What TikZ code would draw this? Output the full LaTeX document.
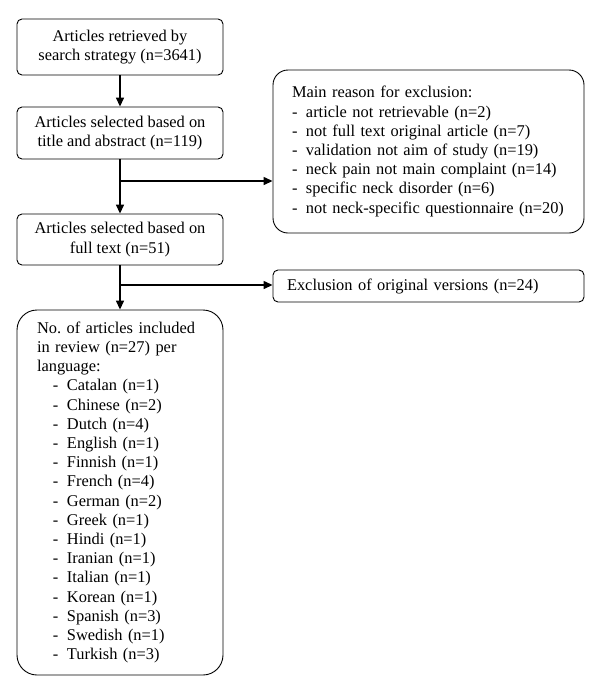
\documentclass[tikz,border=0pt]{standalone}
\usepackage{fontspec}
\setmainfont{Liberation Serif}
\usetikzlibrary{arrows.meta}
\newcommand{\dashitem}[1]{\makebox[14pt][l]{-}#1}

\begin{document}
\begin{tikzpicture}[x=1pt,y=-1pt,
            box/.style={draw,line width=0.9pt,rounded corners=5pt,minimum width=206pt,inner sep=0pt,
                font=\fontsize{16.4}{19.2}\selectfont,align=center},
            listbox/.style={box,align=left},
            flow/.style={line width=1.4pt,-{Triangle[length=9pt,width=8pt]}}]
            \useasboundingbox (0,0) rectangle (600,694);
            \node[box,minimum height=56pt] (retrieved) at (120,47) {Articles retrieved by\\search strategy (n=3641)};
            \node[box,minimum height=52pt] (title) at (120,133) {Articles selected based on\\title and abstract (n=119)};
            \node[box,minimum height=51pt] (fulltext) at (120,239.5) {Articles selected based on\\full text (n=51)};
            \node[listbox,rounded corners=20pt,minimum height=365pt,text width=166pt] (included) at (120,492.5) {%
                No.\ of articles included\\in review (n=27) per\\language:\\
                \hspace*{16pt}\dashitem{Catalan (n=1)}\\
                \hspace*{16pt}\dashitem{Chinese (n=2)}\\
                \hspace*{16pt}\dashitem{Dutch (n=4)}\\
                \hspace*{16pt}\dashitem{English (n=1)}\\
                \hspace*{16pt}\dashitem{Finnish (n=1)}\\
                \hspace*{16pt}\dashitem{French (n=4)}\\
                \hspace*{16pt}\dashitem{German (n=2)}\\
                \hspace*{16pt}\dashitem{Greek (n=1)}\\
                \hspace*{16pt}\dashitem{Hindi (n=1)}\\
                \hspace*{16pt}\dashitem{Iranian (n=1)}\\
                \hspace*{16pt}\dashitem{Italian (n=1)}\\
                \hspace*{16pt}\dashitem{Korean (n=1)}\\
                \hspace*{16pt}\dashitem{Spanish (n=3)}\\
                \hspace*{16pt}\dashitem{Swedish (n=1)}\\
                \hspace*{16pt}\dashitem{Turkish (n=3)}};
            \node[listbox,rounded corners=15pt,minimum width=311pt,minimum height=163pt,text width=273pt] (reason) at (428.5,151.5) {%
                Main reason for exclusion:\\
                \dashitem{article not retrievable (n=2)}\\
                \dashitem{not full text original article (n=7)}\\
                \dashitem{validation not aim of study (n=19)}\\
                \dashitem{neck pain not main complaint (n=14)}\\
                \dashitem{specific neck disorder (n=6)}\\
                \dashitem{not neck-specific questionnaire (n=20)}};
            \node[listbox,minimum width=311pt,minimum height=32pt,text width=283pt] (original) at (428.5,286) {Exclusion of original versions (n=24)};
            \coordinate (split1) at (120,181);
            \coordinate (split2) at (120,285);
            \draw[flow] (retrieved) -- (title);
            \draw[flow] (title) -- (fulltext);
            \draw[flow] (split1) -- (split1 -| reason.west);
            \draw[flow] (fulltext) -- (included);
            \draw[flow] (split2) -- (split2 -| original.west);
        \end{tikzpicture}
\end{document}
